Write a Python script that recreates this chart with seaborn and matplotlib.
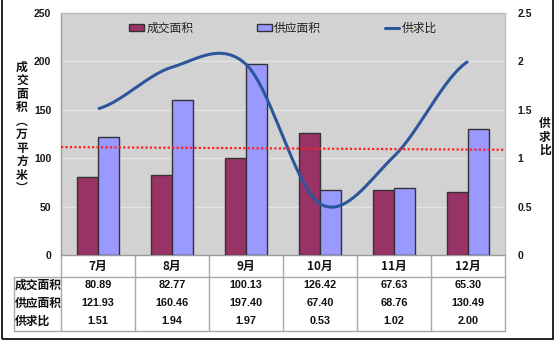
import numpy as np
import pandas as pd
import matplotlib
matplotlib.use("Agg")
import matplotlib.pyplot as plt
import matplotlib.transforms as mtransforms
from matplotlib.patches import Rectangle, Patch
from matplotlib.lines import Line2D
import seaborn as sns

# ---- data ----
months = ["7月", "8月", "9月", "10月", "11月", "12月"]
deal_area = [80.89, 82.77, 100.13, 126.42, 67.63, 65.30]
supply_area = [121.93, 160.46, 197.40, 67.40, 68.76, 130.49]
ratio = [1.51, 1.94, 1.97, 0.53, 1.02, 2.00]
ratio_labels = ["1.51", "1.94", "1.97", "0.53", "1.02", "2.00"]
ref_line = [1.115, 1.087]
left_ticks = [0, 50, 100, 150, 200, 250]
right_ticks = [0, 0.5, 1, 1.5, 2, 2.5]
right_tick_labels = ["0", "0.5", "1", "1.5", "2", "2.5"]
series_names = ["成交面积", "供应面积", "供求比"]

MAROON = "#993366"
LAVENDER = "#9999FF"
LINEBLUE = "#2B579A"
BG = "#D2D2D2"
GRID = "#E3E3E3"
TBL = "#A8A8A8"

sns.set_theme(style="white")
plt.rcParams["font.family"] = ["Noto Sans CJK SC", "DejaVu Sans"]

W, H = 555, 341
fig = plt.figure(figsize=(W / 100, H / 100), dpi=100)
def fx(x): return x / W
def fy(y): return 1 - y / H

ax = fig.add_axes([fx(61), fy(255), (505 - 61) / W, (255 - 13) / H])
ax.set_facecolor(BG)

df = pd.DataFrame({
    "month": months * 2,
    "value": deal_area + supply_area,
    "series": [series_names[0]] * 6 + [series_names[1]] * 6,
})
sns.barplot(data=df, x="month", y="value", hue="series",
            palette=[MAROON, LAVENDER], width=0.56, saturation=1,
            edgecolor="#333333", linewidth=1.0, ax=ax, legend=False, zorder=3)
ax.set_xlim(-0.5, 5.5)
ax.set_ylim(0, 250)
ax.set_yticks(left_ticks)
ax.set_yticklabels([str(t) for t in left_ticks], fontfamily="Liberation Sans",
                   fontweight="bold", fontsize=7.5, color="#1a1a1a")
ax.tick_params(axis="y", length=0, pad=7)
ax.tick_params(axis="x", length=0, labelbottom=False)
ax.set_xlabel("")
ax.set_ylabel("")
for v in left_ticks[1:-1]:
    ax.axhline(v, color=GRID, lw=1, zorder=1)
for s in ["left", "bottom"]:
    ax.spines[s].set_color("#9A9A9A")
    ax.spines[s].set_linewidth(1)
for s in ["top", "right"]:
    ax.spines[s].set_color("#BDBDBD")
    ax.spines[s].set_linewidth(1)

ax2 = ax.twinx()
ax2.set_ylim(0, 2.5)
ax2.set_yticks(right_ticks)
ax2.set_yticklabels(right_tick_labels, fontfamily="Liberation Sans",
                    fontweight="bold", fontsize=7.5, color="#1a1a1a")
ax2.tick_params(axis="y", length=0, pad=9)
for s in ax2.spines.values():
    s.set_visible(False)

# smooth (Catmull-Rom / Hermite) line through ratio points
y = np.array(ratio, dtype=float)
n = len(y)
m = np.zeros(n)
m[1:-1] = (y[2:] - y[:-2]) / 2
m[0] = (y[1] - y[0]) / 2
m[-1] = (y[-1] - y[-2]) / 2
xs, ys = [], []
for i in range(n - 1):
    t = np.linspace(0, 1, 40)
    h00 = 2 * t**3 - 3 * t**2 + 1
    h10 = t**3 - 2 * t**2 + t
    h01 = -2 * t**3 + 3 * t**2
    h11 = t**3 - t**2
    xs.append(i + t)
    ys.append(h00 * y[i] + h10 * m[i] + h01 * y[i + 1] + h11 * m[i + 1])
ax2.plot(np.concatenate(xs), np.concatenate(ys), color=LINEBLUE, lw=2.2,
         solid_capstyle="butt", zorder=5)
ax2.plot([-0.5, 5.5], ref_line, color="#FF2020", lw=1.6,
         linestyle=(0, (1, 1)), zorder=6)
ax2.set_xlim(-0.5, 5.5)

# legend
handles = [Patch(facecolor=MAROON, edgecolor="#333333", lw=1),
           Patch(facecolor=LAVENDER, edgecolor="#333333", lw=1),
           Line2D([], [], color=LINEBLUE, lw=2.2)]
leg = ax2.legend(handles, series_names, loc="upper center",
                 bbox_to_anchor=(0.5, 1.0), ncol=3, frameon=False,
                 fontsize=8.5, handlelength=1.25, handleheight=0.5,
                 handletextpad=0.2, columnspacing=5.4, borderaxespad=0.35)
for t in leg.get_texts():
    t.set_color("#222222")

# axis titles (stacked vertical text)
fig.text(fx(22), fy(128), "\n".join("成交面积︵万平方米︶"), ha="center",
         va="center", fontsize=8.5, fontweight="bold", linespacing=1.05,
         color="#111111")
fig.text(fx(545), fy(137), "\n".join("供求比"), ha="center", va="center",
         fontsize=8.5, fontweight="bold", linespacing=1.0, color="#111111")

# data table below the chart
tr = mtransforms.blended_transform_factory(ax.transData, fig.transFigure)
top, hdr_bot, bot = 255, 277, 331
for k in range(n + 1):
    fig.add_artist(Line2D([k - 0.5, k - 0.5], [fy(top), fy(bot)],
                          transform=tr, color=TBL, lw=1))
fig.add_artist(Line2D([fx(14), fx(14)], [fy(hdr_bot), fy(bot)],
                      transform=fig.transFigure, color=TBL, lw=1))
for yy in (hdr_bot, bot):
    fig.add_artist(Line2D([fx(14), fx(505)], [fy(yy), fy(yy)],
                          transform=fig.transFigure, color=TBL, lw=1))

row_y = [285, 303, 321]
row_vals = [["%.2f" % v for v in deal_area],
            ["%.2f" % v for v in supply_area],
            ratio_labels]
for i, mth in enumerate(months):
    fig.text(i, fy(266), mth, transform=tr, ha="center", va="center",
             fontsize=8.5, fontweight="bold", color="#111111")
    for r in range(3):
        fig.text(i, fy(row_y[r]), row_vals[r][i], transform=tr, ha="center",
                 va="center", fontsize=7.8, fontweight="bold",
                 family=["Liberation Sans", "DejaVu Sans"], color="#111111")
for r in range(3):
    fig.text(fx(15), fy(row_y[r]), series_names[r], ha="left", va="center",
             fontsize=8.5, fontweight="bold", color="#111111")

# outer frame
fig.add_artist(Rectangle((fx(2), fy(339)), fx(551), fy(-5) - fy(339),
                         transform=fig.transFigure, fill=False,
                         edgecolor="black", lw=1.2))

fig.savefig("out.png", dpi=100)
